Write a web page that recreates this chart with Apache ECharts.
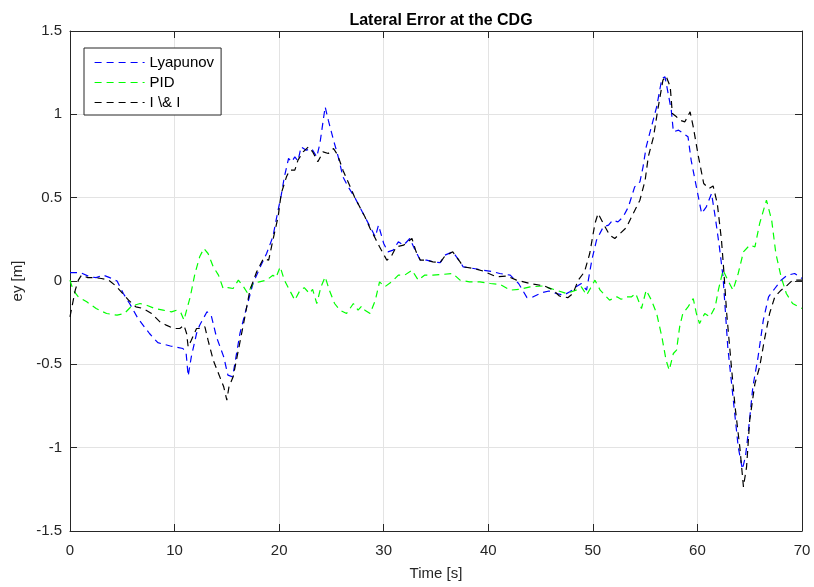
<!DOCTYPE html>
<html>
<head>
<meta charset="utf-8">
<script src="https://cdn.jsdelivr.net/npm/echarts@6/dist/echarts.min.js"></script>
<style>
html, body { margin: 0; padding: 0; background: #fff; }
#chart { width: 814px; height: 587px; }
</style>
</head>
<body>
<div id="chart"></div>
<script>
// values, time in s and lateral error in m
var lyapTime = [0, 1.0, 1.9, 2.5, 3.2, 3.8, 4.5, 5.1, 5.7, 6.5, 7.6, 8.4, 9.6, 10.8, 11.1, 11.3, 11.6, 12.1, 12.4, 13.1,
	13.5, 14.0, 14.7, 15.1, 15.55, 16.25, 16.9, 17.5, 18.2, 18.8, 19.4, 19.9, 20.2, 20.5, 20.9, 21.2, 21.5, 21.8, 22.1, 22.6,
	23.1, 23.6, 23.9, 24.4, 24.7, 25.2, 25.65, 26.1, 26.6, 27.2, 27.7, 28.2, 28.7, 29.2, 29.5, 30.0, 30.4, 30.9, 31.4, 31.9,
	32.5, 33.0, 33.5, 34.1, 34.7, 35.4, 35.85, 36.6, 37.3, 37.6, 38.6, 39.5, 40.5, 41.1, 42.1, 42.9, 43.7, 44.3, 45.1, 45.8,
	46.5, 47.2, 47.8, 48.4, 48.9, 49.4, 49.9, 50.35, 51.0, 51.5, 51.9, 52.4, 52.9, 53.4, 54.0, 54.5, 54.8, 55.1, 55.6, 56.1,
	56.6, 56.9, 57.2, 57.5, 57.7, 58.2, 58.65, 59.1, 59.4, 59.9, 60.4, 60.85, 61.35, 61.7, 62.1, 62.45, 62.9, 63.4, 63.9, 64.3,
	64.6, 64.85, 65.3, 65.8, 66.3, 66.8, 67.4, 68.0, 68.6, 69.3, 70];
var lyapEy = [0.05, 0.05, 0.025, 0.02, 0.035, 0.02, 0.0, -0.075, -0.135, -0.225, -0.315, -0.37, -0.39, -0.405, -0.43, -0.57, -0.455, -0.315, -0.265, -0.185,
	-0.205, -0.335, -0.455, -0.565, -0.575, -0.315, -0.155, -0.015, 0.085, 0.165, 0.265, 0.425, 0.515, 0.625, 0.735, 0.715, 0.745, 0.72, 0.805, 0.785,
	0.795, 0.745, 0.825, 1.045, 0.965, 0.845, 0.745, 0.625, 0.565, 0.505, 0.445, 0.385, 0.325, 0.265, 0.335, 0.225, 0.175, 0.185, 0.235, 0.215,
	0.255, 0.185, 0.125, 0.125, 0.115, 0.11, 0.155, 0.175, 0.115, 0.085, 0.075, 0.065, 0.055, 0.045, 0.035, -0.015, -0.1, -0.095, -0.07, -0.06,
	-0.075, -0.085, -0.065, -0.035, -0.015, -0.055, 0.125, 0.245, 0.325, 0.335, 0.365, 0.355, 0.385, 0.445, 0.565, 0.595, 0.685, 0.805, 0.925, 1.045,
	1.215, 1.225, 1.125, 1.025, 0.895, 0.905, 0.885, 0.865, 0.725, 0.565, 0.405, 0.445, 0.525, 0.385, 0.205, 0.025, -0.395, -0.695, -0.995, -1.13,
	-1.05, -0.915, -0.635, -0.455, -0.235, -0.095, -0.045, 0.005, 0.035, 0.045, 0.015];

var pidTime = [0, 0.3, 0.8, 1.6, 2.5, 3.5, 4.5, 5.2, 5.9, 6.7, 7.3, 8.1, 8.9, 9.7, 10.2, 10.6, 10.9, 11.15, 11.5, 11.95,
	12.4, 12.8, 13.2, 13.7, 14.2, 14.65, 15.1, 15.6, 16.1, 16.6, 17.0, 17.5, 18.1, 18.8, 19.4, 19.7, 20.1, 20.5, 21.0, 21.5,
	22.0, 22.4, 22.9, 23.2, 23.6, 24.0, 24.4, 24.8, 25.3, 25.8, 26.45, 27.1, 27.55, 27.9, 28.2, 28.7, 29.2, 29.6, 30.1, 30.75,
	31.4, 32.0, 32.7, 33.3, 33.9, 34.7, 35.7, 36.6, 37.3, 38.2, 39.2, 40.2, 41.1, 42.1, 43.0, 44.0, 45.2, 46.5, 47.5, 48.4,
	48.9, 49.4, 50.2, 50.7, 51.6, 52.3, 52.7, 53.2, 53.7, 54.1, 54.65, 55.1, 55.6, 56.1, 56.6, 57.0, 57.3, 57.7, 58.0, 58.3,
	58.6, 59.1, 59.6, 59.9, 60.2, 60.7, 61.2, 61.7, 62.0, 62.45, 62.9, 63.4, 63.9, 64.4, 65.0, 65.5, 65.95, 66.6, 67.1, 67.5,
	68.0, 68.5, 69.1, 70];
var pidEy = [0.005, -0.055, -0.095, -0.125, -0.165, -0.195, -0.205, -0.195, -0.15, -0.135, -0.145, -0.165, -0.175, -0.185, -0.175, -0.19, -0.235, -0.175, -0.095, 0.045,
	0.145, 0.195, 0.165, 0.085, 0.035, -0.045, -0.04, -0.045, 0.005, -0.035, -0.075, -0.015, -0.005, 0.005, 0.035, 0.02, 0.085, 0.005, -0.055, -0.115,
	-0.055, -0.04, -0.075, -0.05, -0.135, -0.035, 0.025, -0.055, -0.135, -0.175, -0.195, -0.135, -0.175, -0.15, -0.175, -0.195, -0.115, -0.005, -0.035, -0.005,
	0.035, 0.035, 0.065, 0.005, 0.035, 0.035, 0.04, 0.045, 0.005, -0.005, -0.005, -0.015, -0.02, -0.055, -0.05, -0.035, -0.03, -0.055, -0.075, -0.055,
	-0.035, -0.085, 0.005, -0.055, -0.115, -0.095, -0.11, -0.095, -0.095, -0.075, -0.165, -0.055, -0.115, -0.195, -0.335, -0.475, -0.535, -0.435, -0.415, -0.275,
	-0.195, -0.155, -0.105, -0.195, -0.255, -0.195, -0.215, -0.155, -0.055, 0.065, 0.005, -0.055, 0.045, 0.175, 0.215, 0.205, 0.345, 0.485, 0.365, 0.165,
	0.025, -0.075, -0.135, -0.165];

var iiTime = [0, 0.5, 0.8, 1.1, 1.7, 2.4, 3.0, 3.7, 4.3, 4.9, 5.6, 6.3, 7.0, 7.8, 8.6, 9.2, 9.9, 10.5, 10.9, 11.15,
	11.3, 11.6, 12.1, 12.6, 12.9, 13.2, 13.7, 14.2, 14.7, 15.0, 15.2, 15.6, 16.1, 16.6, 17.2, 17.85, 18.5, 19.0, 19.4, 19.9,
	20.2, 20.7, 21.0, 21.5, 21.8, 22.3, 22.8, 23.2, 23.7, 24.2, 24.7, 25.2, 25.6, 26.1, 26.8, 27.2, 27.7, 28.2, 28.7, 29.2,
	29.6, 30.3, 30.7, 31.2, 31.9, 32.7, 33.1, 33.5, 34.1, 34.7, 35.4, 35.85, 36.6, 37.3, 37.6, 38.6, 39.5, 40.8, 41.8, 42.7,
	44.0, 45.4, 46.2, 46.8, 47.6, 48.1, 48.6, 49.2, 49.7, 50.2, 50.5, 51.0, 51.6, 52.1, 52.6, 53.2, 53.7, 54.5, 55.0, 55.3,
	55.8, 56.2, 56.7, 57.0, 57.4, 57.6, 58.0, 58.3, 58.8, 59.3, 59.6, 60.1, 60.6, 61.1, 61.5, 61.9, 62.3, 62.5, 62.8, 63.25,
	63.6, 64.05, 64.4, 64.7, 65.0, 65.5, 65.95, 66.4, 66.9, 67.4, 68.0, 68.6, 69.1, 70];
var iiEy = [-0.215, -0.055, 0.005, 0.035, 0.02, 0.02, 0.015, 0.005, -0.025, -0.065, -0.115, -0.155, -0.165, -0.195, -0.245, -0.265, -0.285, -0.285, -0.265, -0.315,
	-0.395, -0.355, -0.285, -0.285, -0.275, -0.355, -0.475, -0.555, -0.635, -0.715, -0.635, -0.575, -0.415, -0.255, -0.055, 0.055, 0.135, 0.125, 0.245, 0.385,
	0.525, 0.625, 0.665, 0.665, 0.725, 0.775, 0.805, 0.775, 0.715, 0.775, 0.765, 0.795, 0.755, 0.665, 0.565, 0.505, 0.445, 0.385, 0.315, 0.255,
	0.205, 0.125, 0.145, 0.205, 0.215, 0.255, 0.175, 0.125, 0.125, 0.115, 0.11, 0.15, 0.175, 0.115, 0.085, 0.075, 0.06, 0.025, 0.03, 0.005,
	-0.015, -0.03, -0.055, -0.09, -0.1, -0.075, 0.005, 0.055, 0.165, 0.345, 0.405, 0.345, 0.275, 0.255, 0.285, 0.32, 0.385, 0.485, 0.605, 0.745,
	0.865, 1.025, 1.205, 1.23, 1.165, 1.005, 0.985, 0.965, 0.955, 1.015, 0.925, 0.745, 0.585, 0.555, 0.57, 0.465, 0.245, 0.08, -0.195, -0.515,
	-0.755, -0.995, -1.235, -1.115, -0.835, -0.615, -0.515, -0.355, -0.195, -0.095, -0.055, -0.025, 0.005, 0.005];

var seriesNames = ['Lyapunov', 'PID', 'I \\& I'];

function pairs(t, v) {
	var out = [];
	for (var i = 0; i < t.length; i++) out.push([t[i], v[i]]);
	return out;
}

var font = 'Liberation Sans, Arial, sans-serif';
var ink = '#262626';

function mkSeries(name, t, v, color) {
	return {
		name: name,
		type: 'line',
		data: pairs(t, v),
		symbol: 'none',
		animation: false,
		lineStyle: { color: color, width: 1.2, type: [7, 5] },
		itemStyle: { color: color }
	};
}

var chart = echarts.init(document.getElementById('chart'));
var option = {
	backgroundColor: '#fff',
	title: {
		text: 'Lateral Error at the CDG',
		left: 436,
		top: 8,
		textAlign: 'center',
		textStyle: { fontFamily: font, fontSize: 16, fontWeight: 'bold', color: '#000' }
	},
	legend: {
		orient: 'vertical',
		left: 84,
		top: 48,
		data: seriesNames,
		itemWidth: 50,
		itemHeight: 14,
		itemGap: 5,
		padding: [7, 7, 5, 10],
		borderColor: ink,
		borderWidth: 1,
		backgroundColor: '#fff',
		// hide the marker, keep only the dashed line sample
		itemStyle: { color: 'rgba(0,0,0,0)', borderWidth: 0 },
		lineStyle: { width: 1.2 },
		textStyle: { fontFamily: font, fontSize: 15, color: '#000' }
	},
	grid: { left: 70, right: 12, top: 31, bottom: 56 },
	xAxis: [{
		type: 'value',
		min: 0, max: 70, interval: 10,
		name: 'Time [s]',
		nameLocation: 'middle',
		nameGap: 35,
		nameTextStyle: { fontFamily: font, fontSize: 15, color: ink },
		axisLine: { show: true, onZero: false, lineStyle: { color: ink, width: 1 } },
		axisTick: { show: true, inside: true, length: 7, lineStyle: { color: ink } },
		axisLabel: { fontFamily: font, fontSize: 15, color: ink, margin: 12 },
		splitLine: { show: true, lineStyle: { color: '#e3e3e3', width: 1 } }
	}, {
		type: 'value',
		position: 'top',
		min: 0, max: 70, interval: 10,
		axisLine: { show: true, onZero: false, lineStyle: { color: ink, width: 1 } },
		axisTick: { show: true, inside: true, length: 7, lineStyle: { color: ink } },
		axisLabel: { show: false },
		splitLine: { show: false }
	}],
	yAxis: [{
		type: 'value',
		min: -1.5, max: 1.5, interval: 0.5,
		name: 'ey [m]',
		nameLocation: 'middle',
		nameGap: 38,
		nameTextStyle: { fontFamily: font, fontSize: 15, color: ink },
		axisLine: { show: true, onZero: false, lineStyle: { color: ink, width: 1 } },
		axisTick: { show: true, inside: true, length: 7, lineStyle: { color: ink } },
		axisLabel: { fontFamily: font, fontSize: 15, color: ink, margin: 8 },
		splitLine: { show: true, lineStyle: { color: '#e3e3e3', width: 1 } }
	}, {
		type: 'value',
		position: 'right',
		min: -1.5, max: 1.5, interval: 0.5,
		axisLine: { show: true, onZero: false, lineStyle: { color: ink, width: 1 } },
		axisTick: { show: true, inside: true, length: 7, lineStyle: { color: ink } },
		axisLabel: { show: false },
		splitLine: { show: false }
	}],
	series: [
		mkSeries(seriesNames[0], lyapTime, lyapEy, '#0000ff'),
		mkSeries(seriesNames[1], pidTime, pidEy, '#00ff00'),
		mkSeries(seriesNames[2], iiTime, iiEy, '#000000')
	]
};
chart.setOption(option);
</script>
</body>
</html>
